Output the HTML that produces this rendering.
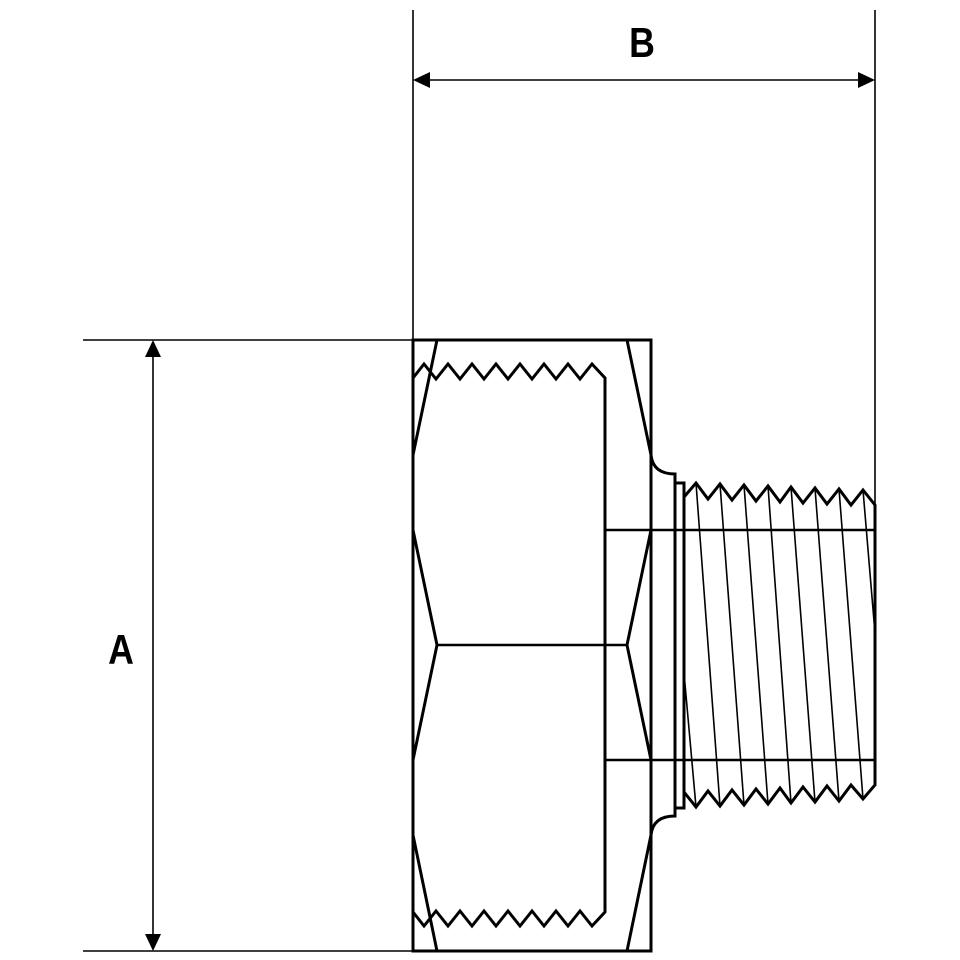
<!DOCTYPE html>
<html><head><style>html,body{margin:0;padding:0;background:#fff}svg{display:block}</style></head>
<body>
<svg width="960" height="960" viewBox="0 0 960 960" xmlns="http://www.w3.org/2000/svg">
<g stroke="#000" fill="none" stroke-width="1.6">
<line x1="413" y1="10" x2="413" y2="340"/>
<line x1="875" y1="10" x2="875" y2="505"/>
<line x1="425" y1="80" x2="863" y2="80"/>
<line x1="83" y1="340" x2="413" y2="340"/>
<line x1="83" y1="951" x2="413" y2="951"/>
<line x1="153" y1="352" x2="153" y2="939"/>
<path d="M684 673L696 807M696 483L720 806M720 484L744 805M744 485L768 804M768 486L791 803M791 487L815 802M815 488L839 801M839 489L863 799M863 490L875 633"/>
</g>
<g stroke="#000" stroke-width="2.6">
<line x1="605" y1="530" x2="875" y2="530"/>
<line x1="605" y1="760" x2="875" y2="760"/>
<line x1="437" y1="645" x2="627" y2="645"/>
</g>
<g fill="#000">
<polygon points="413,80 430,72 430,88"/>
<polygon points="875,80 858,72 858,88"/>
<polygon points="153,340 145,357 161,357"/>
<polygon points="153,951 145,934 161,934"/>
</g>
<g stroke="#000" fill="none" stroke-width="3" stroke-linejoin="miter">
<rect x="413" y="340" width="238" height="611"/>
<path d="M437 340L413 455M413 530L437 645L413 760M413 835L437 951"/>
<path d="M627 340L651 455M651 530L627 645L651 760M651 835L627 951"/>
<path d="M413 378L424 364L436 379L448 364L460 379L472 364L484 379L496 364L508 379L520 364L532 379L544 364L556 379L568 364L580 379L592 364L605 378L605 912L592 926L580 911L568 926L556 911L544 926L532 911L520 926L508 911L496 926L484 911L472 926L460 911L448 926L436 911L424 926L413 912"/>
<path d="M651 455Q653 474 675 474L675 816Q653 816 651 835"/>
<rect x="675" y="483" width="9" height="325"/>
<path d="M684 497L696 483L708 499L720 484L732 500L744 485L756 501L768 486L780 502L791 487L803 503L815 488L827 504L839 489L851 505L863 490L875 505L875 785L863 799L851 785L839 801L827 786L815 802L803 787L791 803L780 788L768 804L756 789L744 805L732 790L720 806L708 791L696 807L684 792"/>
</g>
<g font-family="Liberation Sans, sans-serif" font-weight="bold" font-size="42" fill="#000" text-anchor="middle">
<text transform="translate(642,57) scale(0.85,1)">B</text>
<text transform="translate(121,664) scale(0.85,1)">A</text>
</g>
</svg>
</body></html>
